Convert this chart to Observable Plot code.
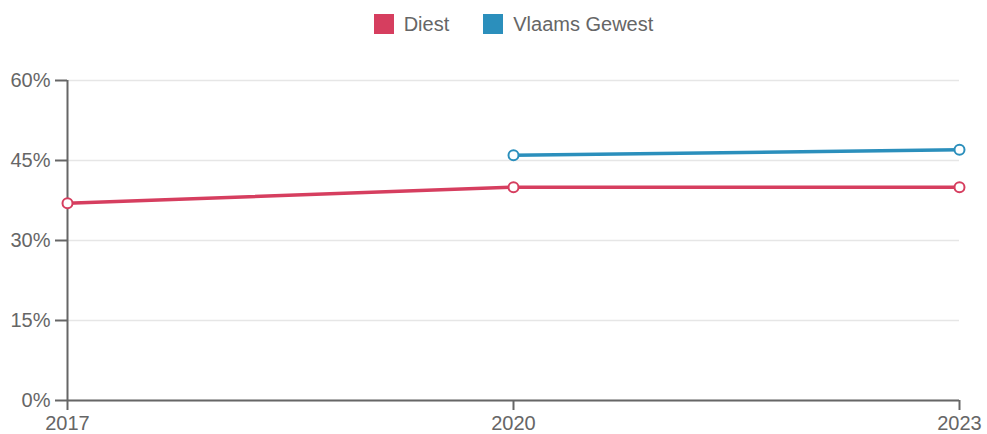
<!DOCTYPE html>
<html>
<head>
<meta charset="utf-8">
<script src="https://cdn.jsdelivr.net/npm/d3@7"></script>
<script src="https://cdn.jsdelivr.net/npm/@observablehq/plot@0.6"></script>
<style>
  body { margin: 0; background: #fff; font-family: "Liberation Sans", Arial, sans-serif; }
  #legend { height: 46px; display: flex; justify-content: center; align-items: center; color: #666; font-size: 20px; padding-left: 40px; padding-top: 2px; box-sizing: border-box; }
  .item { display: flex; align-items: center; margin: 0 17px; }
  .sw { width: 20px; height: 20px; margin-right: 10px; }
  #chart svg { display: block; }
</style>
</head>
<body>
<div id="legend"></div>
<div id="chart"></div>
<script>
const years = [2017, 2020, 2023];
const seriesNames = ["Diest", "Vlaams Gewest"];
const diest = [37, 40, 40];
const vlaams = [null, 46, 47];
const colors = ["#d63e5f", "#2b8fbc"];
const yTicks = [0, 15, 30, 45, 60];

const rows = [];
[diest, vlaams].forEach((vals, si) => {
  vals.forEach((v, i) => { if (v != null) rows.push({year: years[i], value: v, series: seriesNames[si]}); });
});

const legend = document.getElementById("legend");
seriesNames.forEach((n, i) => {
  const it = document.createElement("div");
  it.className = "item";
  it.innerHTML = `<div class="sw" style="background:${colors[i]}"></div><span>${n}</span>`;
  legend.appendChild(it);
});

const chart = Plot.plot({
  width: 987,
  height: 388,
  marginTop: 34,
  marginBottom: 34,
  marginLeft: 67,
  marginRight: 28,
  style: { fontFamily: '"Liberation Sans", Arial, sans-serif', fontSize: "20px", color: "#666", background: "#fff", overflow: "visible" },
  x: { type: "linear", domain: [2017, 2023], label: null },
  y: { domain: [0, 60], label: null },
  color: { domain: seriesNames, range: colors },
  marks: [
    Plot.gridY(yTicks, { stroke: "#e6e6e6", strokeOpacity: 1, strokeWidth: 1.5 }),
    Plot.line(rows, { x: "year", y: "value", z: "series", stroke: "series", strokeWidth: 3.5 }),
    Plot.ruleX([2017], { stroke: "#666", strokeWidth: 2 }),
    Plot.ruleY([0], { stroke: "#666", strokeWidth: 2 }),
    Plot.axisY(yTicks, { label: null, tickFormat: d => d + "%", tickSize: 12, tickPadding: 5, stroke: "#666", strokeWidth: 2, fill: "#666", fontSize: 20 }),
    Plot.axisX(years, { label: null, tickFormat: d => String(d), tickSize: 10, tickPadding: 5, stroke: "#666", strokeWidth: 2, fill: "#666", fontSize: 20 }),
    Plot.dot(rows, { x: "year", y: "value", stroke: "series", fill: "#fff", r: 5, strokeWidth: 2 })
  ]
});
document.getElementById("chart").appendChild(chart);
</script>
</body>
</html>
